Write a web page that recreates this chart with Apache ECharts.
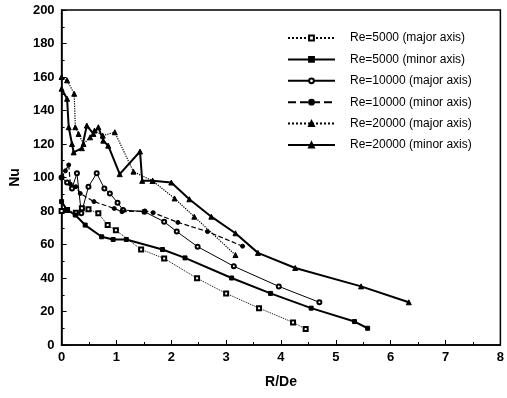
<!DOCTYPE html>
<html>
<head>
<meta charset="utf-8">
<script src="https://cdn.jsdelivr.net/npm/echarts@6/dist/echarts.min.js"></script>
<style>
  html, body { margin: 0; padding: 0; background: #fff; }
  #chart { width: 507px; height: 398px; }
</style>
</head>
<body>
<div id="chart"></div>
<script>
// [R/De, Nu]
const re5000Major = [[0, 80], [0.1, 80.6], [0.26, 79], [0.37, 81.6], [0.49, 81], [0.67, 78.6], [0.84, 71.6], [0.99, 68.5],
  [1.45, 57], [1.87, 51.7], [2.47, 39.8], [3.0, 30.8], [3.6, 22], [4.22, 13.5], [4.45, 9.5]];
const re5000Minor = [[0, 85.6], [0.1, 80.6], [0.25, 77.6], [0.43, 71.6], [0.73, 64.6], [0.94, 63], [1.18, 63],
  [1.84, 57], [2.25, 52], [3.1, 40], [3.81, 30.8], [4.55, 22], [5.34, 14], [5.58, 10]];
const re10000Major = [[0, 100], [0.1, 97], [0.19, 93.5], [0.28, 102.5], [0.36, 78.6], [0.49, 94.5], [0.64, 102.5],
  [0.78, 93.5], [0.88, 90.5], [1.02, 85], [1.12, 80.6], [1.51, 79.6], [1.87, 73.6], [2.1, 67.7], [2.48, 58.7],
  [3.14, 47], [3.96, 35], [4.7, 25.5]];
const re10000Minor = [[0, 100], [0.07, 104], [0.13, 107.5], [0.16, 96], [0.26, 94.5], [0.34, 90.5], [0.59, 85.6],
  [0.96, 81.5], [1.1, 79.6], [1.52, 80], [1.67, 79], [2.12, 73.2], [2.66, 67.7], [3.3, 59]];
const re20000Major = [[0, 160], [0.1, 158], [0.23, 150], [0.25, 130], [0.31, 126], [0.4, 120], [0.52, 124], [0.6, 128],
  [0.75, 125], [0.97, 127], [1.31, 103.5], [1.66, 98], [2.06, 87.5], [2.42, 76.6], [3.17, 53.7]];
const re20000Minor = [[0, 153], [0.1, 147], [0.13, 130], [0.19, 120], [0.22, 115], [0.37, 117.5], [0.46, 131],
  [0.58, 126], [0.67, 130], [0.76, 122], [0.85, 119], [1.06, 102], [1.43, 115.5], [1.47, 98], [1.66, 98], [2.0, 97],
  [2.33, 87], [2.73, 76.6], [3.17, 66.7], [3.58, 55], [4.26, 46], [5.46, 35], [6.33, 25.5]];

const names = ["Re=5000 (major axis)", "Re=5000 (minor axis)", "Re=10000 (major axis)",
  "Re=10000 (minor axis)", "Re=20000 (major axis)", "Re=20000 (minor axis)"];

const font = "Liberation Sans, Arial, sans-serif";

function line(name, data, symbol, size, width, type) {
  return {
    name, type: "line", data, symbol, symbolSize: size,
    lineStyle: { color: "#000", width, type },
    itemStyle: { color: "#000", borderColor: "#000", borderWidth: 1 },
    animation: false,
  };
}

const chart = echarts.init(document.getElementById("chart"), null, { renderer: "canvas" });
chart.setOption({
  backgroundColor: "#fff",
  grid: { left: 58, right: 4, top: 10, bottom: 53, show: true, borderColor: "#000", borderWidth: 1.5 },
  legend: {
    orient: "vertical", left: 282, top: 27,
    itemWidth: 47, itemHeight: 6, itemGap: 9.4,
    textStyle: { fontFamily: font, fontSize: 12, color: "#000", padding: [0, 0, 0, 10] },
    data: names,
  },
  xAxis: {
    type: "value", min: 0, max: 8, interval: 1,
    name: "R/De", nameLocation: "middle", nameGap: 30,
    nameTextStyle: { fontFamily: font, fontSize: 14, fontWeight: "bold", color: "#000" },
    axisLine: { lineStyle: { color: "#000", width: 1.5 } },
    axisTick: { inside: true, length: 5, lineStyle: { color: "#000" } },
    minorTick: { show: true, splitNumber: 2, length: 3, lineStyle: { color: "#000" } },
    splitLine: { show: false },
    axisLabel: { fontFamily: font, fontSize: 13, fontWeight: "bold", color: "#000", margin: 6 },
  },
  yAxis: {
    type: "value", min: 0, max: 200, interval: 20,
    name: "Nu", nameLocation: "middle", nameGap: 38,
    nameTextStyle: { fontFamily: font, fontSize: 14, fontWeight: "bold", color: "#000" },
    axisLine: { lineStyle: { color: "#000", width: 1.5 } },
    axisTick: { inside: true, length: 5, lineStyle: { color: "#000" } },
    minorTick: { show: true, splitNumber: 2, length: 3, lineStyle: { color: "#000" } },
    splitLine: { show: false },
    axisLabel: { fontFamily: font, fontSize: 13, fontWeight: "bold", color: "#000", margin: 7 },
  },
  series: [
    line(names[0], re5000Major, "emptyRect", 4, 1, "dotted"),
    line(names[1], re5000Minor, "rect", 4, 2, "solid"),
    line(names[2], re10000Major, "emptyCircle", 4, 1, "solid"),
    line(names[3], re10000Minor, "circle", 4, 1.2, "dashed"),
    line(names[4], re20000Major, "triangle", 5, 1.2, "dotted"),
    line(names[5], re20000Minor, "triangle", 5, 2, "solid"),
  ],
});
</script>
</body>
</html>
